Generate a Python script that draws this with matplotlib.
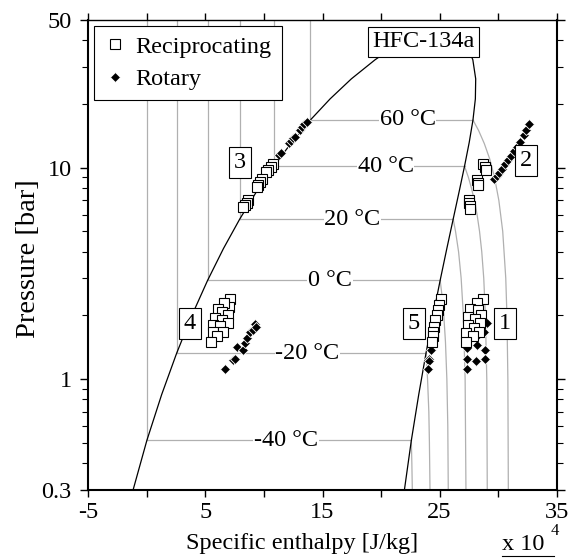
import matplotlib
matplotlib.use("Agg")
import matplotlib.pyplot as plt
from matplotlib.lines import Line2D

plt.rcParams["font.family"] = ["Liberation Serif", "DejaVu Serif"]
FS = 17.5

# ---- HFC-134a saturation table (h in 1e4 J/kg, ASHRAE reference; P in bar)
sat_T = [-50, -40, -30, -20, -10, 0, 10, 20, 30, 40, 50, 60, 70, 80, 90, 95, 100, 101.06]
sat_P = [0.299, 0.512, 0.844, 1.327, 2.006, 2.928, 4.146, 5.717, 7.702, 10.166,
         13.179, 16.818, 21.168, 26.332, 32.442, 35.912, 39.724, 40.593]
sat_hf = [-1.172, 0.0, 1.265, 2.550, 3.856, 5.186, 6.544, 7.935, 9.365, 10.840,
          12.369, 13.965, 15.650, 17.465, 19.498, 20.666, 22.084, 24.150]
sat_hg = [21.996, 22.586, 23.218, 23.841, 24.452, 25.046, 25.618, 26.161, 26.668, 27.129,
          27.530, 27.849, 28.054, 28.083, 27.837, 27.486, 26.586, 24.150]

# ---- isotherms drawn on the chart
iso_T = [-40, -20, 0, 20, 40, 60]
iso_P = [0.512, 1.327, 2.928, 5.717, 10.166, 16.818]
iso_hf = [0.0, 2.550, 5.186, 7.935, 10.840, 13.965]
iso_hg = [22.586, 23.841, 25.046, 26.161, 27.129, 27.849]
iso_label = ["-40 °C", "-20 °C", "0 °C", "20 °C", "40 °C", "60 °C"]
iso_label_h = [11.87, 13.72, 15.64, 17.56, 20.40, 22.26]

# superheated-vapour branches of the isotherms: (pressure list, enthalpy list)
vap_P = [
    [0.512, 0.40, 0.30],
    [1.327, 1.0, 0.7, 0.5, 0.3],
    [2.928, 2.5, 2.0, 1.5, 1.0, 0.6, 0.3],
    [5.717, 5.0, 4.0, 3.0, 2.0, 1.0, 0.5, 0.3],
    [10.166, 9, 8, 7, 6, 5, 4, 3, 2, 1, 0.3],
    [16.818, 15, 13, 11, 9, 7, 5, 3, 2, 1, 0.3],
]
vap_h = [
    [22.586, 22.63, 22.67],
    [23.84, 23.97, 24.08, 24.13, 24.18],
    [25.05, 25.20, 25.36, 25.50, 25.62, 25.70, 25.74],
    [26.16, 26.36, 26.62, 26.84, 27.03, 27.18, 27.22, 27.25],
    [27.13, 27.46, 27.72, 27.97, 28.20, 28.41, 28.60, 28.77, 28.91, 29.03, 29.07],
    [27.85, 28.33, 28.82, 29.28, 29.69, 30.06, 30.39, 30.65, 30.75, 30.83, 30.87],
]

# ---- measured cycle states
# Reciprocating compressor
rec_h1 = [28.73, 28.17, 27.60, 28.31, 27.45, 28.54, 28.02, 27.45, 28.45, 27.94, 27.23, 28.39, 27.88, 27.23]
rec_P1 = [2.39, 2.28, 2.14, 2.12, 1.97, 2.01, 1.92, 1.80, 1.84, 1.74, 1.65, 1.67, 1.59, 1.49]
rec_h2 = [28.73, 28.88, 28.92, 28.17, 28.24, 28.31, 27.51, 27.55, 27.60, 27.60]
rec_P2 = [10.41, 10.08, 9.75, 8.74, 8.47, 8.28, 7.03, 6.77, 6.59, 6.41]
rec_h3 = [10.80, 10.60, 10.37, 10.18, 9.81, 9.66, 9.52, 9.38, 8.66, 8.53, 8.38, 8.24]
rec_P3 = [10.41, 10.11, 9.75, 9.57, 8.81, 8.59, 8.28, 8.13, 7.03, 6.83, 6.66, 6.50]
rec_h4 = [7.10, 7.04, 6.59, 6.10, 6.39, 6.96, 5.82, 6.39, 6.96, 5.67, 6.25, 5.62, 6.53, 6.02, 5.45]
rec_P4 = [2.39, 2.20, 2.28, 2.14, 2.08, 2.01, 1.94, 1.90, 1.84, 1.80, 1.78, 1.66, 1.67, 1.60, 1.50]
rec_h5 = [25.12, 24.97, 24.84, 24.75, 24.63, 24.55, 24.46, 24.41, 24.35]
rec_P5 = [2.38, 2.24, 2.12, 2.01, 1.90, 1.77, 1.67, 1.59, 1.49]

# Rotary compressor
rot_h1 = [29.07, 28.79, 28.17, 27.31, 28.17, 28.88, 27.31, 28.11, 28.88, 27.31]
rot_P1 = [1.84, 1.67, 1.59, 1.40, 1.45, 1.37, 1.25, 1.22, 1.24, 1.12]
rot_h2 = [29.65, 29.86, 30.07, 30.33, 30.58, 30.84, 31.10, 31.35, 31.61, 31.87, 32.21, 32.38, 32.63]
rot_P2 = [8.84, 9.14, 9.49, 9.86, 10.41, 10.93, 11.42, 12.00, 12.53, 13.23, 14.28, 15.08, 16.10]
rot_h3 = [11.29, 11.46, 12.14, 12.31, 12.51, 12.65, 13.08, 13.22, 13.45, 13.65]
rot_P3 = [11.48, 11.78, 13.05, 13.42, 13.78, 14.02, 15.08, 15.53, 16.10, 16.51]
rot_h4 = [6.67, 7.38, 7.53, 7.67, 8.19, 8.38, 8.53, 8.81, 9.09, 9.24, 9.32]
rot_P4 = [1.11, 1.23, 1.25, 1.41, 1.37, 1.48, 1.56, 1.66, 1.71, 1.82, 1.76]
rot_h5 = [24.27, 24.12, 24.12, 23.98]
rot_P5 = [1.37, 1.25, 1.22, 1.12]

# state-point tags
tag_text = ["1", "2", "3", "4", "5"]
tag_h = [30.59, 32.36, 7.98, 3.69, 22.79]
tag_P = [1.835, 10.78, 10.6, 1.835, 1.835]

fig = plt.figure(figsize=(5.73, 5.58), dpi=100)
ax = fig.add_axes([88.3 / 573, (558 - 489.5) / 558, (556.7 - 88.3) / 573, (489.5 - 20) / 558])
ax.set_yscale("log")
ax.set_xlim(-5, 35)
ax.set_ylim(0.3, 50)

gray = "#b0b0b0"
# isotherms
for i in range(len(iso_T)):
    ax.plot([iso_hf[i], iso_hf[i]], [iso_P[i], 50], color=gray, lw=0.9, zorder=1)
    ax.plot([iso_hf[i], iso_hg[i]], [iso_P[i], iso_P[i]], color=gray, lw=0.9, zorder=1)
    ax.plot(vap_h[i], vap_P[i], color=gray, lw=0.9, zorder=1)
    ax.text(iso_label_h[i], iso_P[i], iso_label[i], fontsize=FS, ha="center", va="center",
            zorder=2, bbox=dict(facecolor="white", edgecolor="none", pad=0.5))

# saturation dome
dome_h = sat_hf + sat_hg[::-1]
dome_P = sat_P + sat_P[::-1]
ax.plot(dome_h, dome_P, color="black", lw=0.9, zorder=3)

sq = dict(marker="s", ms=6.5, mfc="white", mec="black", mew=0.8, ls="none", zorder=5)
dm = dict(marker="D", ms=5.4, mfc="black", mec="white", mew=0.6, ls="none", zorder=4)
for h, p in [(rot_h1, rot_P1), (rot_h2, rot_P2), (rot_h3, rot_P3), (rot_h4, rot_P4), (rot_h5, rot_P5)]:
    ax.plot(h, p, **dm)
for h, p in [(rec_h1, rec_P1), (rec_h2, rec_P2), (rec_h3, rec_P3), (rec_h4, rec_P4), (rec_h5, rec_P5)]:
    ax.plot(h, p, **sq)

for t, h, p in zip(tag_text, tag_h, tag_P):
    ax.text(h, p, t, fontsize=FS, ha="center", va="center", zorder=6,
            bbox=dict(facecolor="white", edgecolor="black", lw=0.8, boxstyle="square,pad=0.2"))
ax.text(23.65, 39.5, "HFC-134a", fontsize=FS, ha="center", va="center", zorder=6,
        bbox=dict(facecolor="white", edgecolor="black", lw=0.8, boxstyle="square,pad=0.18"))

# axes styling
for side in ["left", "bottom", "right"]:
    ax.spines[side].set_linewidth(1.5)
ax.spines["top"].set_linewidth(1.0)
ax.set_xticks([-5, 0, 5, 10, 15, 20, 25, 30, 35])
ax.set_xticklabels(["-5", "", "5", "", "15", "", "25", "", "35"])
ax.set_yticks([0.3, 1, 10, 50])
ax.set_yticklabels(["0.3", "1", "10", "50"])
ax.set_yticks([0.4, 0.5, 0.6, 0.7, 0.8, 0.9, 2, 3, 4, 5, 6, 7, 8, 9, 20, 30, 40], minor=True)
ax.yaxis.set_minor_formatter(matplotlib.ticker.NullFormatter())
ax.tick_params(axis="both", which="major", direction="out", length=5, width=1.0,
               labelsize=FS, top=True, right=True, pad=6)
ax.tick_params(axis="x", which="major", pad=4)
ax.tick_params(axis="y", which="minor", direction="out", length=4, width=0.8, right=True)
ax.tick_params(axis="y", which="major", length=6)

# axis titles
fig.text(302 / 573, 1 - 549 / 558, "Specific enthalpy [J/kg]", fontsize=FS, ha="center", va="baseline")
fig.text(29 / 573, 1 - 259 / 558, "Pressure [bar]", fontsize=20.5, ha="center", va="center",
         rotation=90)

# enthalpy scale factor
fig.text(502 / 573, 1 - 550 / 558, "x 10", fontsize=FS, ha="left", va="baseline")
fig.text(550.5 / 573, 1 - 535 / 558, "4", fontsize=FS - 5.5, ha="left", va="baseline")
fig.add_artist(Line2D([502 / 573, 554 / 573], [1 - 555.5 / 558, 1 - 555.5 / 558], color="black", lw=0.8))

handles = [Line2D([], [], **sq), Line2D([], [], **dm)]
leg = ax.legend(handles, ["Reciprocating", "Rotary"], loc="upper left", fontsize=FS,
                frameon=True, fancybox=False, edgecolor="black", framealpha=1,
                borderaxespad=0.25, handletextpad=0.4, handlelength=0.9, labelspacing=0.42,
                borderpad=0.4)
leg.get_frame().set_linewidth(0.8)
leg.set_zorder(10)

fig.savefig("out.png", dpi=100)
